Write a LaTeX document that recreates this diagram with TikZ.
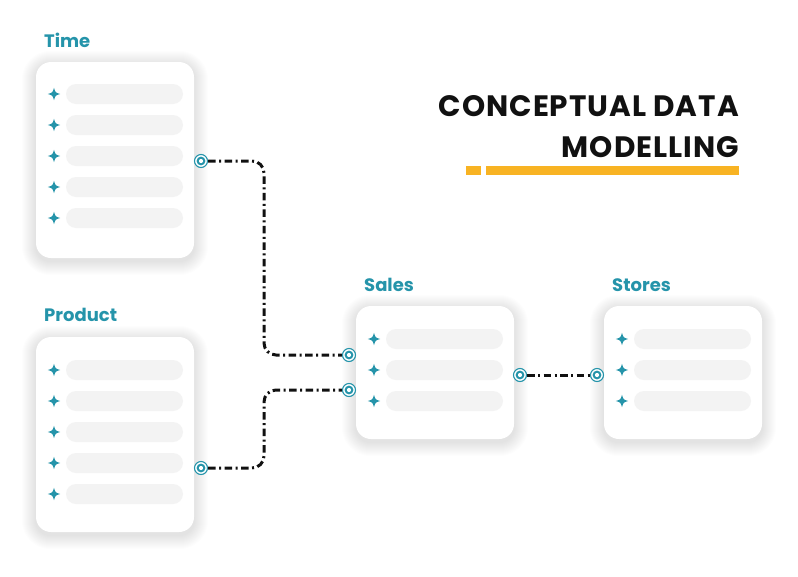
\documentclass[tikz,border=0pt]{standalone}
\usepackage{fontspec}
\setmainfont{Poppins}
\usetikzlibrary{calc}
\definecolor{teal}{HTML}{2594AA}
\definecolor{barfill}{HTML}{F3F3F3}
\definecolor{gold}{HTML}{F8B323}
\definecolor{ink}{HTML}{111111}
\pgfdeclarelayer{bg}
\pgfdeclarelayer{paper}
\pgfsetlayers{paper,bg,main}
\tikzset{
  entitybox/.style={fill=white, rounded corners=15pt, minimum width=158pt, inner sep=0pt},
  entitylabel/.style={anchor=west, text=teal, font=\fontsize{18}{20}\selectfont\bfseries, inner sep=0pt},
  bar/.style={fill=barfill, rounded corners=10pt, minimum width=117pt, minimum height=20pt, inner sep=0pt},
  port/.style={circle, draw=teal, line width=1.1pt, fill=white, minimum size=13pt, inner sep=0pt,
     path picture={\fill[teal] (path picture bounding box.center) circle (4.4pt);
                   \fill[white] (path picture bounding box.center) circle (2.1pt);}},
  link/.style={draw=ink, line width=3pt, dash pattern=on 7.5pt off 3.5pt on 2pt off 3.5pt, rounded corners=12pt},
  sparkle/.pic={\fill[teal] (0,-6.2) .. controls (1.4,-1.4) .. (6.2,0) .. controls (1.4,1.4) .. (0,6.2)
       .. controls (-1.4,1.4) .. (-6.2,0) .. controls (-1.4,-1.4) .. (0,-6.2) -- cycle;},
  title/.style={anchor=east, inner sep=0pt, text=ink, font=\fontsize{29.5}{34}\selectfont\bfseries\addfontfeatures{LetterSpace=3.3}}
}
\newcommand{\softshadow}[1]{%
  \begin{pgfonlayer}{bg}
  \foreach \i in {1,...,14}{
    \fill[black, opacity=0.0075, rounded corners=15pt+\i pt]
      ($(#1.south west)+(-\i,\i+3)$) rectangle ($(#1.north east)+(\i,-\i+3)$);
  }
  \end{pgfonlayer}}
\newcommand{\rows}[3]{% x of star, first y, count
  \foreach \k in {1,...,#3}{
    \pgfmathsetmacro{\yy}{#2+31*(\k-1)}
    \pic at (#1,\yy) {sparkle};
    \node[bar] at ({#1+70.5},\yy) {};
  }}
\begin{document}
\begin{tikzpicture}[x=1pt,y=-1pt]
\useasboundingbox (0,0) rectangle (798,576);
\begin{pgfonlayer}{paper}
\fill[white] (0,0) rectangle (798,576);
\end{pgfonlayer}

% boxes
\node[entitybox, minimum height=196pt] (time) at (115,160) {};
\node[entitybox, minimum height=195pt] (product) at (115,434.5) {};
\node[entitybox, minimum height=133pt] (sales) at (435,372.5) {};
\node[entitybox, minimum height=133pt] (stores) at (683,372.5) {};
\softshadow{time}
\softshadow{product}
\softshadow{sales}
\softshadow{stores}

% labels
\node[entitylabel] (timelbl) at (44,40) {Time};
\node[entitylabel] (productlbl) at (44,315) {Product};
\node[entitylabel] (saleslbl) at (364,285) {Sales};
\node[entitylabel] (storeslbl) at (612,285) {Stores};

% rows
\rows{54}{94}{5}
\rows{54}{370}{5}
\rows{374}{339}{3}
\rows{622}{339}{3}

% title
\node[title] (t1) at (739,106) {CONCEPTUAL DATA};
\node[title] (t2) at (739,147) {MODELLING};
\fill[gold] (466,166) rectangle (481,175);
\fill[gold] (486,166) rectangle (739,175);

% ports
\node[port] (ptime) at (201,161) {};
\node[port] (pprod) at (201,468) {};
\node[port] (psales1) at (349,355) {};
\node[port] (psales2) at (349,390) {};
\node[port] (psalesr) at (520,375) {};
\node[port] (pstores) at (597,375) {};

% connectors
\coordinate (bend) at (264,0);
\draw[link] (ptime.east) -- (ptime.east -| bend) |- (psales1.west);
\draw[link] (pprod.east) -- (pprod.east -| bend) |- (psales2.west);
\draw[link] (psalesr.east) -- (pstores.west);
\end{tikzpicture}
\end{document}
